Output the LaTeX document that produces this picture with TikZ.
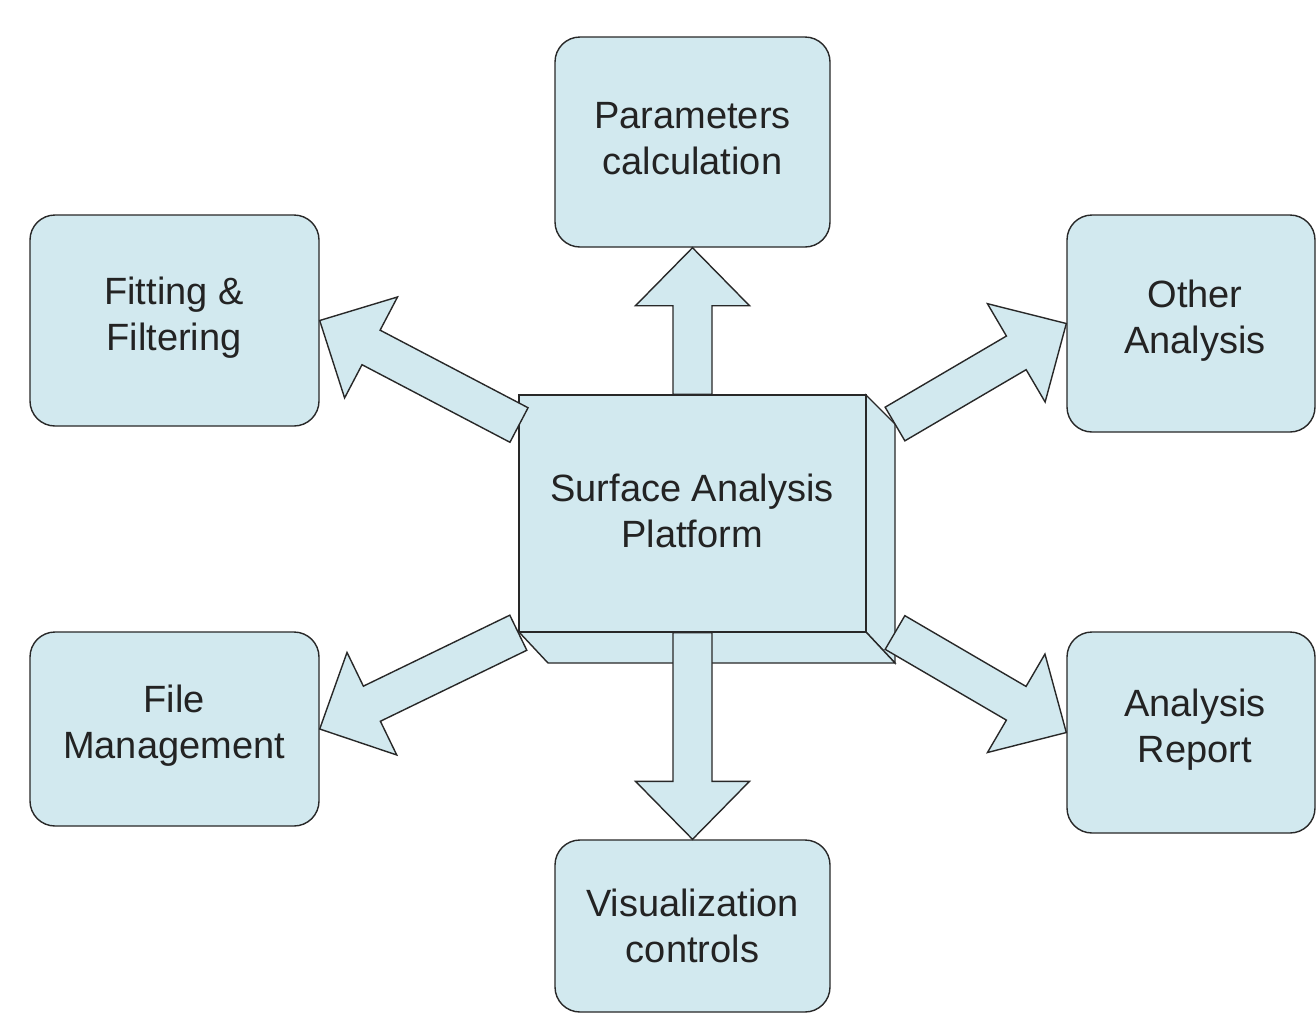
\documentclass[tikz,border=0pt]{standalone}
\usepackage{fontspec}
\setmainfont{Liberation Sans}
\usetikzlibrary{calc}
\definecolor{boxfill}{RGB}{210,233,239}
\definecolor{boxline}{RGB}{40,40,40}
\definecolor{txt}{RGB}{35,35,35}
\tikzset{
  box/.style={draw=boxline, fill=boxfill, line width=1.4pt, rounded corners=25pt,
    inner sep=0pt, align=center, text=txt, font=\fontsize{38}{46}\selectfont},
  mainbox/.style={draw=boxline, fill=boxfill, line width=1.4pt,
    inner sep=0pt, align=center, text=txt, font=\fontsize{38}{46}\selectfont},
  bevel/.style={draw=boxline, fill=boxfill, line width=1.4pt, line join=miter},
  blockarrow/.style={draw=boxline, fill=boxfill, line width=1.4pt, line join=miter},
  label/.style={inner sep=0pt, align=center, text=txt, font=\fontsize{38}{46}\selectfont}
}
\newcommand\fatarrow[2]{%
  \coordinate (fa-s) at (#1);
  \coordinate (fa-t) at (#2);
  \coordinate (fa-b) at ($(fa-t)!58pt!(fa-s)$);
  \draw[blockarrow]
    ($(fa-s)!19.5pt!90:(fa-t)$) --
    ($(fa-b)!19.5pt!90:(fa-t)$) --
    ($(fa-b)!57pt!90:(fa-t)$) --
    (fa-t) --
    ($(fa-b)!57pt!-90:(fa-t)$) --
    ($(fa-b)!19.5pt!-90:(fa-t)$) --
    ($(fa-s)!19.5pt!-90:(fa-t)$) -- cycle;
}
\begin{document}
\begin{tikzpicture}[x=1pt,y=-1pt]
\useasboundingbox (0,0) rectangle (1316,1013);
\clip (0,0) rectangle (1316,1013);
\fill[white] (0,0) rectangle (1316,1013);

% outer boxes
\node[box, minimum width=275pt, minimum height=210pt] (param) at (692.5,142) {};
\node[box, minimum width=289pt, minimum height=211pt] (fit) at (174.5,320.5) {};
\node[box, minimum width=248pt, minimum height=217pt] (oa) at (1191,323.5) {};
\node[box, minimum width=289pt, minimum height=194pt] (fm) at (174.5,729) {};
\node[box, minimum width=248pt, minimum height=201pt] (ar) at (1191,732.5) {};
\node[box, minimum width=275pt, minimum height=172pt] (vis) at (692.5,926) {};

\node[label] (param-t) at (692.5,139) {Parameters\\calculation};
\node[label] (fit-t) at (174,318) {Fitting \&\\Filtering};
\node[label] (oa-t) at (1195,321) {Other\\Analysis};
\node[label] (fm-t) at (174,726) {File\\Management};
\node[label] (ar-t) at (1195,730) {Analysis\\Report};
\node[label] (vis-t) at (692.5,926) {Visualization\\controls};

% central box with bevel
\coordinate (bv-a) at (866,395);
\coordinate (bv-b) at (895,424);
\coordinate (bv-c) at (895,663);
\coordinate (bv-d) at (866,632);
\coordinate (bv-e) at (519,632);
\coordinate (bv-f) at (548,663);
\draw[bevel] (bv-a) -- (bv-b) -- (bv-c) -- (bv-d) -- cycle;
\draw[bevel] (bv-e) -- (bv-d) -- (bv-c) -- (bv-f) -- cycle;
\node[mainbox, minimum width=347pt, minimum height=237pt] (sap) at (692.5,513.5) {};
\node[label] (sap-t) at (692,511) {Surface Analysis\\Platform};

% arrow start points on the central box
\coordinate (sap-l1) at (519,425);
\coordinate (sap-r1) at (895,424);
\coordinate (sap-r2) at (895,632.5);

% block arrows
\fatarrow{sap.north}{param.south}
\fatarrow{sap.south}{vis.north}
\fatarrow{sap-l1}{fit.east}
\fatarrow{sap.south west}{fm.east}
\fatarrow{sap-r1}{oa.west}
\fatarrow{sap-r2}{ar.west}
\end{tikzpicture}
\end{document}
